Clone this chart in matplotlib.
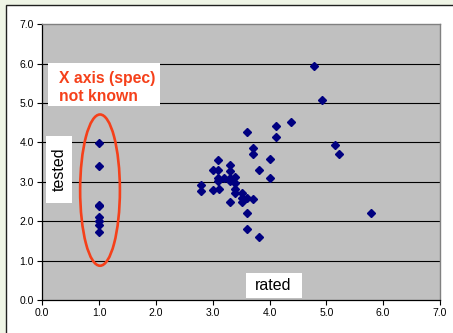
#!/usr/bin/env python3

import matplotlib.pyplot as plt
from matplotlib.patches import Ellipse, Rectangle

plt.rcParams["font.family"] = ["Liberation Sans", "DejaVu Sans"]

# spec not known -> plotted at rated = 1.0
unknown_rated = [1.0, 1.0, 1.0, 1.0, 1.0, 1.0, 1.0, 1.0]
unknown_tested = [3.98, 3.41, 2.42, 2.38, 2.10, 2.00, 1.90, 1.73]

rated = [
    4.38, 4.11, 4.11, 3.61, 3.70, 3.70, 4.00, 3.10, 3.31, 3.31,
    3.00, 3.10, 3.81, 4.00, 3.10, 3.10, 3.19, 3.31, 3.31, 3.40,
    3.40, 3.40, 3.40, 2.80, 2.80, 3.00, 3.11, 3.51, 3.51, 3.51,
    3.61, 3.70, 3.31, 3.61, 3.61, 3.81,
    4.79, 4.93, 5.16, 5.23, 5.78,
]
tested = [
    4.52, 4.42, 4.14, 4.26, 3.87, 3.71, 3.59, 3.56, 3.43, 3.28,
    3.29, 3.31, 3.29, 3.09, 3.11, 3.03, 3.09, 3.09, 3.01, 3.13,
    2.96, 2.83, 2.72, 2.91, 2.77, 2.79, 2.82, 2.71, 2.59, 2.50,
    2.58, 2.56, 2.49, 2.20, 1.80, 1.60,
    5.95, 5.07, 3.93, 3.71, 2.20,
]

ticks = [0, 1, 2, 3, 4, 5, 6, 7]
RED = "#f5401a"
NAVY = "#000080"

fig = plt.figure(figsize=(4.53, 3.33), dpi=100, facecolor="#eff5e6")
# white chart area with a dark frame, cropped at right and bottom
fig.patches.append(Rectangle((6 / 453, -0.1), 1.2, (333 - 5) / 333 + 0.1,
                             transform=fig.transFigure, facecolor="white",
                             edgecolor="#202020", linewidth=1.0, zorder=-10))

ax = fig.add_axes([42.3 / 453, 1 - 300 / 333, (440 - 42.3) / 453, (300 - 24.3) / 333])
ax.set_zorder(1)
ax.set_facecolor("#c0c0c0")
ax.set_xlim(0, 7)
ax.set_ylim(0, 7)
ax.set_xticks(ticks)
ax.set_yticks(ticks)
ax.set_xticklabels([f"{t:.1f}" for t in ticks], fontsize=7.5)
ax.set_yticklabels([f"{t:.1f}" for t in ticks], fontsize=7.5)
ax.tick_params(direction="out", length=3.5, width=0.8, pad=2.5, colors="black")

for y in ticks[1:-1]:
    ax.axhline(y, color="black", linewidth=0.8, zorder=1)

for side in ("left", "bottom"):
    ax.spines[side].set_color("black")
    ax.spines[side].set_linewidth(0.9)
for side in ("top", "right"):
    ax.spines[side].set_color("#808080")
    ax.spines[side].set_linewidth(1.0)

ax.plot(rated, tested, "D", color=NAVY, markersize=3.6, linestyle="none", zorder=3)
ax.plot(unknown_rated, unknown_tested, "D", color=NAVY, markersize=3.6,
        linestyle="none", zorder=3)

ax.add_patch(Ellipse((1.016, 2.79), 0.70, 3.84, fill=False, edgecolor=RED,
                     linewidth=1.9, zorder=4))

# white text boxes
for x0, y0, w, h in [(0.10, 4.92, 1.97, 1.10), (0.065, 2.46, 0.46, 1.70),
                     (3.59, 0.05, 0.98, 0.64)]:
    ax.add_patch(Rectangle((x0, y0), w, h, facecolor="white", edgecolor="none", zorder=5))

ax.text(0.29, 5.40, "X axis (spec)\nnot known", color=RED, fontsize=11.3,
        fontweight="bold", ha="left", va="center", linespacing=1.2, zorder=6)
ax.text(0.294, 3.31, "tested", rotation=90, fontsize=11.5, ha="center", va="center",
        zorder=6)
ax.text(4.07, 0.37, "rated", fontsize=11.5, ha="center", va="center", zorder=6)

fig.savefig("out.png", dpi=100, facecolor=fig.get_facecolor())
